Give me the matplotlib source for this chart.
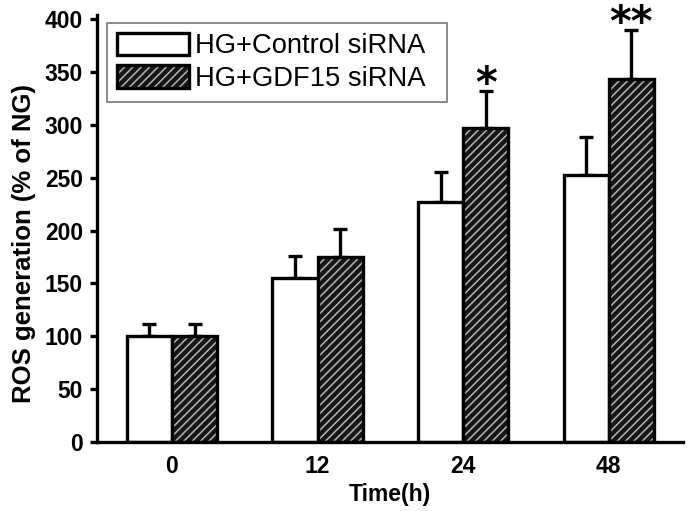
import matplotlib
matplotlib.use("Agg")
import matplotlib.pyplot as plt
import numpy as np
from matplotlib.patches import Patch
from matplotlib.legend_handler import HandlerTuple

plt.rcParams['font.family'] = ['Liberation Sans', 'DejaVu Sans']
plt.rcParams['hatch.linewidth'] = 1.1

categories = ['0', '12', '24', '48']
control_vals = [100, 155, 227, 253]
control_err = [12, 21, 28, 36]
gdf_vals = [100, 175, 297, 343]
gdf_err = [12, 27, 35, 47]
series_labels = ['HG+Control siRNA', 'HG+GDF15 siRNA']
sig_marks = ['', '', '*', '**']

W, H = 691, 511
fig = plt.figure(figsize=(W/100, H/100), dpi=100)
ax = fig.add_axes([97/W, (H-442)/H, (683-97)/W, (442-15)/H])

x = np.arange(len(categories))
bw = 0.31
lw = 2.4
dark = '#161616'
hatchc = '#b5b5b5'
hatch = '////'

ax.bar(x - bw/2, control_vals, bw, color='white', edgecolor='black', linewidth=lw, zorder=2)
ax.bar(x + bw/2, gdf_vals, bw, color=dark, edgecolor=hatchc, hatch=hatch, linewidth=0, zorder=2)
ax.bar(x + bw/2, gdf_vals, bw, fill=False, edgecolor='black', linewidth=lw, zorder=3)

ax.errorbar(x - bw/2, control_vals, yerr=[np.zeros(4), control_err], fmt='none',
            ecolor='black', elinewidth=2.4, capsize=4.7, capthick=2.4, zorder=1)
ax.errorbar(x + bw/2, gdf_vals, yerr=[np.zeros(4), gdf_err], fmt='none',
            ecolor='black', elinewidth=2.4, capsize=4.7, capthick=2.4, zorder=1)

for xi, v, e, m in zip(x, gdf_vals, gdf_err, sig_marks):
    if m:
        ax.text(xi + bw/2, v + e - 5.5, m, ha='center', va='baseline', fontsize=30,
                fontweight='bold', family=['DejaVu Sans'])

ax.set_xlim(-0.515, 3.51)
ax.set_ylim(0, 404)
ax.set_yticks(np.arange(0, 401, 50))
ax.set_xticks(x)
ax.set_xticklabels(categories)
for s in ['top', 'right']:
    ax.spines[s].set_visible(False)
for s in ['left', 'bottom']:
    ax.spines[s].set_linewidth(2.4)
ax.tick_params(axis='y', length=5, width=2.4, pad=5, labelsize=16.5)
ax.tick_params(axis='x', length=0, pad=9, labelsize=16.5)
for lab in ax.get_xticklabels() + ax.get_yticklabels():
    lab.set_fontweight('bold')
ax.set_xlabel('Time(h)', fontsize=16.5, fontweight='bold', labelpad=4)
ax.set_ylabel('ROS generation (% of NG)', fontsize=18.5, fontweight='bold')
ax.yaxis.set_label_coords(-0.104, 0.466)

h1 = Patch(facecolor='white', edgecolor='black', linewidth=lw)
h2 = (Patch(facecolor=dark, edgecolor=hatchc, hatch=hatch, linewidth=0),
      Patch(fill=False, edgecolor='black', linewidth=lw))
leg = ax.legend([h1, h2], series_labels, handler_map={tuple: HandlerTuple(ndivide=1, pad=0)},
                loc='upper left', mode='expand',
                bbox_to_anchor=(107/W, (H-100)/H, 340/W, 77/H), bbox_transform=fig.transFigure,
                fontsize=19.7, handlelength=2.63, handleheight=0.9, handletextpad=0.22,
                labelspacing=0.22, borderpad=0.35, borderaxespad=0, frameon=True,
                fancybox=False, edgecolor='#555555', shadow=False)
leg.get_frame().set_linewidth(1.2)

fig.savefig('out.png', dpi=100)
